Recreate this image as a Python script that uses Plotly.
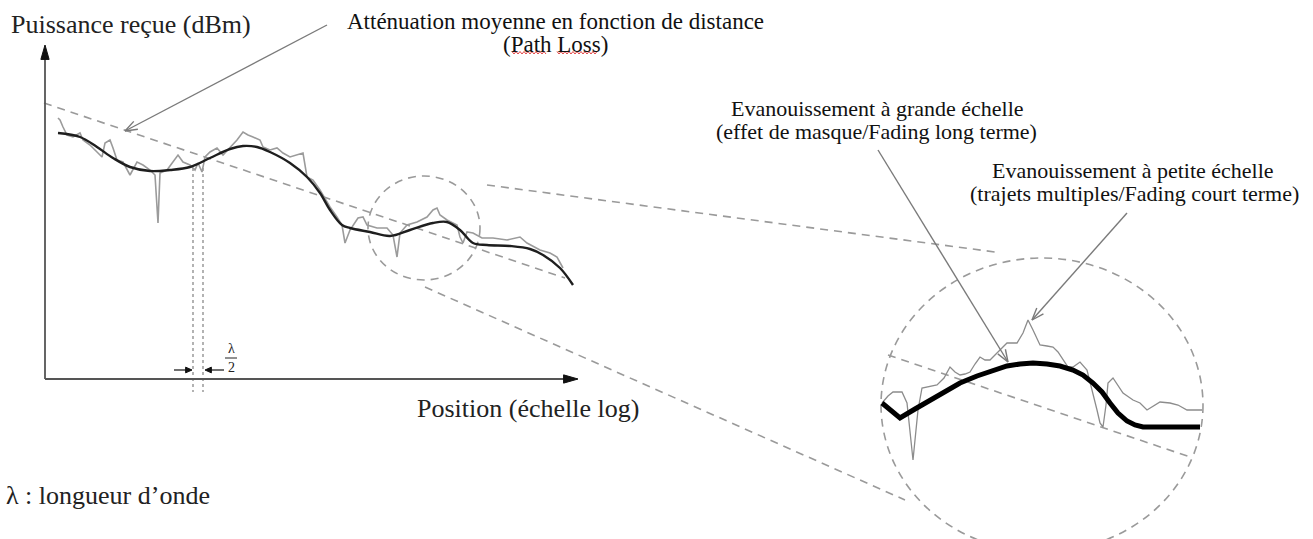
import numpy as np
import plotly.graph_objects as go

W, H = 1313, 539

# ---------------- data (diagram units: x to the right, y downwards) ----------------
# Main panel: local mean (shadowing) of the received power
main_pos = [58, 80, 97, 113, 130, 150, 170, 190, 210, 230, 243, 257, 270, 290, 307, 320,
            330, 342, 350, 370, 390, 410, 433, 447, 460, 473, 487, 510, 530, 543, 560, 573]
main_mean = [133, 137, 147, 158, 167, 171, 170, 167, 158, 149, 146, 147, 152, 163, 177, 193,
             210, 225, 228, 232, 236, 230, 223, 222, 230, 243, 245, 246, 249, 255, 268, 285]

# Main panel: instantaneous received power (multipath fading)
fast_pos = [58, 60, 63, 67, 73, 80, 83, 90, 97, 102, 105, 110, 113, 117, 123, 130, 137, 143, 150, 155,
            158, 160, 167, 173, 178, 183, 190, 195, 198, 202, 205, 210, 217, 223, 230, 237, 243, 248, 253, 260,
            263, 270, 277, 283, 290, 297, 303, 307, 313, 320, 330, 337, 342, 345, 350, 358, 363, 367, 377, 387,
            393, 397, 400, 407, 417, 427, 433, 437, 440, 447, 457, 460, 463, 467, 473, 482, 493, 507, 520, 527,
            540, 550, 557, 563]
fast_val = [118, 120, 127, 135, 137, 133, 140, 145, 152, 157, 143, 140, 148, 160, 162, 175, 162, 165, 170, 175,
            223, 173, 170, 162, 155, 162, 165, 170, 163, 172, 157, 152, 148, 155, 147, 140, 132, 135, 137, 140,
            147, 150, 148, 153, 157, 155, 153, 177, 180, 190, 207, 217, 225, 243, 230, 218, 217, 225, 228, 228,
            235, 257, 233, 225, 222, 217, 210, 208, 215, 220, 225, 237, 243, 232, 233, 238, 238, 240, 237, 243,
            250, 253, 257, 268]

# Magnified view: local mean
zoom_pos = [882, 900, 915, 930, 945, 960, 977, 993, 1007, 1020, 1033, 1047, 1060, 1073, 1083,
            1093, 1102, 1110, 1118, 1127, 1135, 1143, 1170, 1200]
zoom_mean = [403, 418, 409, 400, 391, 383, 376, 370, 366, 364, 363, 364, 366, 370, 375,
             383, 392, 403, 413, 421, 425, 427, 427, 427]

# Magnified view: instantaneous power
zfast_pos = [882, 888, 893, 902, 907, 910, 913, 916, 918, 922, 930, 937, 944, 950, 955, 960, 965, 970, 975, 980,
             985, 990, 995, 1000, 1007, 1012, 1017, 1023, 1028, 1033, 1040, 1047, 1053, 1058, 1063, 1068, 1073,
             1080, 1087, 1093, 1097, 1100, 1103, 1106, 1108, 1113, 1118, 1123, 1133, 1140, 1147, 1153, 1160,
             1170, 1178, 1187, 1202]
zfast_val = [403, 396, 392, 392, 403, 430, 460, 430, 410, 388, 386, 385, 378, 367, 372, 375, 374, 372, 364, 357,
             360, 360, 355, 350, 343, 343, 343, 333, 320, 330, 345, 346, 347, 352, 360, 367, 367,
             362, 370, 393, 410, 423, 427, 405, 383, 378, 385, 393, 400, 403, 410, 406, 402,
             403, 405, 410, 410]

# Path-loss trend lines and magnifier guide lines: (x0, y0, x1, y1)
path_loss_main = (44, 103, 565, 278)
path_loss_zoom = (888, 355, 1193, 458)
guide_upper = (487, 185, 995, 252)
guide_lower = (425, 287, 905, 500)

# Magnifier outlines: (x0, y0, x1, y1)
lens_small = (368, 176, 480, 280)
lens_big = (881, 258, 1203, 552)

# Callout arrows: (tail_x, tail_y, tip_x, tip_y)
callouts = [(327, 25, 125, 131), (878, 150, 1008, 362), (1127, 213, 1032, 320)]

# Axes of the main panel
origin = (45, 379)
y_axis_top = 45
x_axis_end = 578

# Half-wavelength marker
half_wave_x = [193, 203]
half_wave_span = (168, 392)

# Labels
title_y = "Puissance reçue (dBm)"
title_x = "Position (échelle log)"
legend_note = "λ : longueur d’onde"
note_path_loss = ["Atténuation moyenne en fonction de distance", "(Path Loss)"]
note_large = ["Evanouissement à grande échelle", "(effet de masque/Fading long terme)"]
note_small = ["Evanouissement à petite échelle", "(trajets multiples/Fading court terme)"]

SERIF = "Liberation Serif"
DASH_GREY = "#9a9a9a"
DASH = "8px,6px"

fig = go.Figure()


def line(x, y, color, width, dash=None, shape="linear"):
    fig.add_trace(go.Scatter(x=x, y=y, mode="lines", hoverinfo="skip",
                             line=dict(color=color, width=width, dash=dash, shape=shape)))


def head_points(tail, tip, length, half_angle):
    d = np.array(tail, float) - np.array(tip, float)
    d /= np.linalg.norm(d)
    pts = []
    for s in (1, -1):
        a = np.radians(half_angle) * s
        r = np.array([[np.cos(a), -np.sin(a)], [np.sin(a), np.cos(a)]]) @ d
        pts.append(np.array(tip, float) + length * r)
    return pts


def open_head(tail, tip, color, width, length=13, half_angle=20):
    p1, p2 = head_points(tail, tip, length, half_angle)
    line([p1[0], tip[0], p2[0]], [p1[1], tip[1], p2[1]], color, width)


def solid_head(tail, tip, color, length=12, half_angle=18):
    p1, p2 = head_points(tail, tip, length, half_angle)
    fig.add_trace(go.Scatter(x=[p1[0], tip[0], p2[0], p1[0]], y=[p1[1], tip[1], p2[1], p1[1]],
                             mode="lines", fill="toself", fillcolor=color, hoverinfo="skip",
                             line=dict(color=color, width=1)))


# dashed trend and guide lines
for seg in (path_loss_main, path_loss_zoom, guide_upper, guide_lower):
    line([seg[0], seg[2]], [seg[1], seg[3]], DASH_GREY, 1.6, dash=DASH)

# magnifier outlines
for x0, y0, x1, y1 in (lens_small, lens_big):
    fig.add_shape(type="circle", xref="x", yref="y", x0=x0, y0=y0, x1=x1, y1=y1,
                  line=dict(color=DASH_GREY, width=1.6, dash=DASH), layer="below")

# half-wavelength dotted markers
for xv in half_wave_x:
    line([xv, xv], list(half_wave_span), "#8a8a8a", 1.3, dash="dot")

# main panel curves
line(fast_pos, fast_val, "#9b9b9b", 1.6)
line(main_pos, main_mean, "#1e1e1e", 2.4, shape="spline")

# magnified curves
line(zfast_pos, zfast_val, "#8c8c8c", 1.3)
line(zoom_pos, zoom_mean, "#000000", 5)

# axes with arrowheads
ox, oy = origin
line([ox, ox], [oy, y_axis_top + 8], "#555555", 1.8)
line([ox, x_axis_end - 8], [oy, oy], "#555555", 1.8)
solid_head((ox, oy), (ox, y_axis_top), "#111111", length=15, half_angle=16)
solid_head((ox, oy), (x_axis_end, oy), "#111111", length=15, half_angle=16)

# λ/2 spacing arrows
line([174, 190], [370, 370], "#111111", 1.2)
solid_head((174, 370), (192, 370), "#111111", length=7, half_angle=24)
line([224, 207], [370, 370], "#111111", 1.2)
solid_head((224, 370), (205, 370), "#111111", length=7, half_angle=24)
line([225, 237], [358, 358], "#222222", 1)

# callout arrows
for tx, ty, hx, hy in callouts:
    line([tx, hx], [ty, hy], "#7a7a7a", 1.4)
    open_head((tx, ty), (hx, hy), "#7a7a7a", 1.4)

# spell-check squiggle under "Path Loss"
for xa, xb in ((512, 547), (557, 598)):
    xs = np.arange(xa, xb + 1, 2)
    ys = np.where(np.arange(len(xs)) % 2 == 0, 51.5, 54)
    line(xs, ys, "#e03030", 0.9)

annotations = []


def text(s, x, y, size, color="#111111", xanchor="center"):
    annotations.append(dict(text=s, x=x, y=y, xref="x", yref="y", showarrow=False,
                            xanchor=xanchor, yanchor="middle",
                            font=dict(family=SERIF, size=size, color=color)))


text(title_y, 9, 24, 26, "#222222", "left")
text(title_x, 415, 408, 26, "#222222", "left")
text(legend_note, 4, 495, 26, "#222222", "left")
text(note_path_loss[0], 555, 21, 23)
text(note_path_loss[1], 555, 44, 23)
text(note_large[0], 877, 108, 22)
text(note_large[1], 876, 131, 22)
text(note_small[0], 1133, 170, 22)
text(note_small[1], 1134, 193, 22)
text("λ", 231, 348, 14, "#222222")
text("2", 231, 367, 14, "#222222")

fig.update_layout(
    width=W, height=H, autosize=False,
    margin=dict(l=0, r=0, t=0, b=0),
    paper_bgcolor="white", plot_bgcolor="white",
    showlegend=False,
    annotations=annotations,
    xaxis=dict(range=[0, W], visible=False, fixedrange=True),
    yaxis=dict(range=[H, 0], visible=False, fixedrange=True),
)

fig.write_html("out.html", config={"displayModeBar": False})
